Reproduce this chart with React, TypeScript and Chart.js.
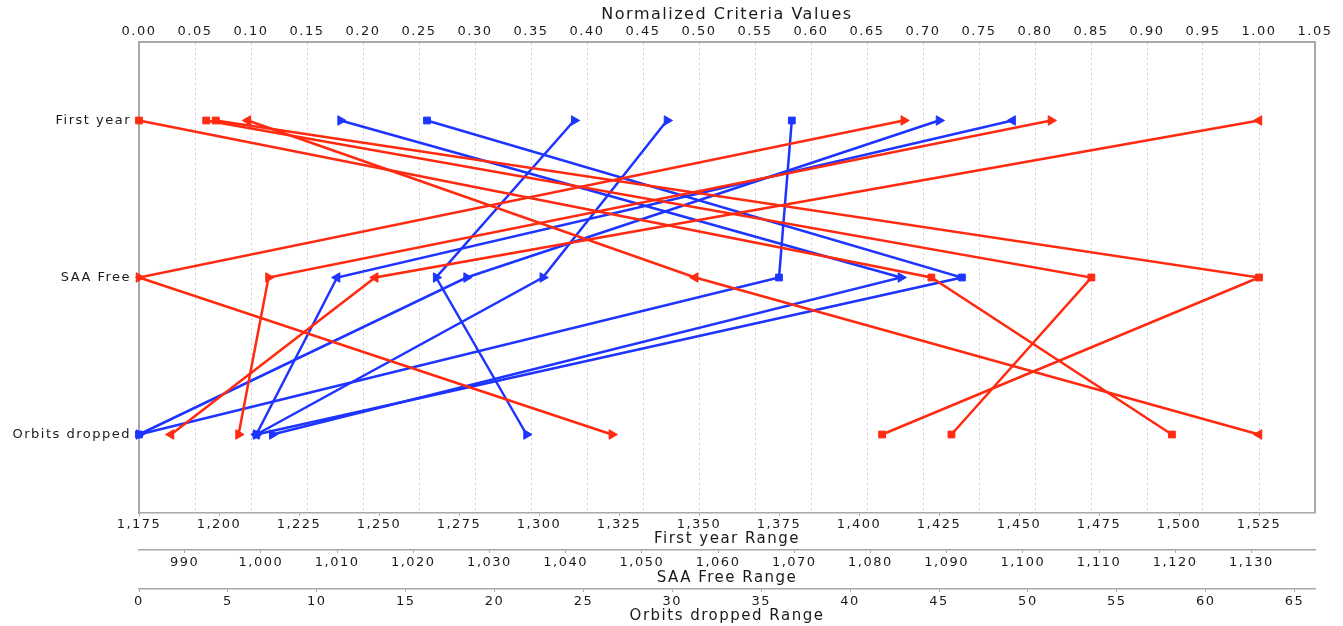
import React, { useEffect, useRef } from 'react';
import { Chart, registerables } from 'chart.js';

Chart.register(...registerables);

// ---------- data ----------
const categories = ['First year', 'SAA Free', 'Orbits dropped'];

// group of each solution (A = red family, B = blue family)
const solutionGroup = ['A', 'A', 'A', 'A', 'A', 'A', 'A', 'B', 'B', 'B', 'B', 'B', 'B', 'B'];

// raw criteria values of each solution
const firstYear = [1175, 1196, 1199, 1209, 1414, 1460, 1525, 1238, 1265, 1311, 1340, 1379, 1425, 1448];
const saaFree = [1088, 1109, 1131, 1057, 984, 1001, 1015, 1084, 1092, 1023, 1037, 1068, 1027, 1010];
const orbitsDropped = [58.1, 45.7, 41.8, 63, 26.6, 5.6, 1.8, 7.5, 6.6, 21.8, 6.6, 0, 0, 6.6];

// tick labels
const normalizedTicks = [0, 0.05, 0.1, 0.15, 0.2, 0.25, 0.3, 0.35, 0.4, 0.45, 0.5, 0.55, 0.6, 0.65, 0.7, 0.75, 0.8, 0.85, 0.9, 0.95, 1.0, 1.05];
const firstYearTicks = [1175, 1200, 1225, 1250, 1275, 1300, 1325, 1350, 1375, 1400, 1425, 1450, 1475, 1500, 1525];
const saaFreeTicks = [990, 1000, 1010, 1020, 1030, 1040, 1050, 1060, 1070, 1080, 1090, 1100, 1110, 1120, 1130];
const orbitsTicks = [0, 5, 10, 15, 20, 25, 30, 35, 40, 45, 50, 55, 60, 65];

// ---------- styles ----------
const MARKERS = ['square', 'square', 'square', 'left', 'right', 'right', 'left', 'right', 'square', 'right', 'right', 'square', 'right', 'left'];
const GROUP_COLORS: Record<string, string> = { A: '#ff2a10', B: '#1e34ff' };
const GRAY = '#a8a8a8';
const TEXT = '#1a1a1a';
const FAMILY = '"DejaVu Sans", sans-serif';
const SPACING = '1.5px';

const norm = (v: number, arr: number[]) => {
  const mn = Math.min(...arr);
  const mx = Math.max(...arr);
  return (v - mn) / (mx - mn);
};

export default function App() {
  const ref = useRef<HTMLCanvasElement>(null);

  useEffect(() => {
    document.body.style.margin = '0';
    const canvas = ref.current;
    if (!canvas) return;

    const datasets = firstYear.map((fy, i) => {
      const color = GROUP_COLORS[solutionGroup[i]];
      const m = MARKERS[i];
      return {
        label: `Solution ${i + 1}`,
        data: [
          { x: norm(fy, firstYear), y: categories[0] },
          { x: norm(saaFree[i], saaFree), y: categories[1] },
          { x: norm(orbitsDropped[i], orbitsDropped), y: categories[2] },
        ],
        borderColor: color,
        backgroundColor: color,
        borderWidth: 2.5,
        pointStyle: m === 'square' ? 'rect' : 'triangle',
        pointRotation: m === 'right' ? 90 : m === 'left' ? -90 : 0,
        pointRadius: m === 'square' ? 4.8 : 5.5,
        pointBorderWidth: 1,
        pointBorderColor: color,
        pointBackgroundColor: color,
        tension: 0,
        fill: false,
        clip: false as any,
      };
    });

    const tickFont = { family: FAMILY, size: 13 };
    const axisTitleFont = { family: FAMILY, size: 15 };
    const titleFont = { family: FAMILY, size: 16 };

    const rangeAxis = (arr: number[], ticks: number[], title: string, weight: number, h: number, pad: number, tpad: number) => {
      const mn = Math.min(...arr);
      const mx = Math.max(...arr);
      return {
        type: 'linear',
        position: 'bottom',
        weight,
        bounds: 'data',
        min: mn,
        max: mn + 1.05 * (mx - mn),
        afterBuildTicks: (s: any) => {
          s.ticks = ticks.map((v) => ({ value: v }));
        },
        afterFit: (s: any) => {
          s.height = h;
        },
        grid: { display: true, drawOnChartArea: false, drawTicks: true, tickLength: 3, color: GRAY, tickColor: GRAY },
        border: { display: true, color: GRAY, width: 1.5 },
        ticks: {
          padding: pad,
          font: tickFont,
          color: TEXT,
          autoSkip: false,
          maxRotation: 0,
          callback: (v: any) => Number(v).toLocaleString('en-US'),
        },
        title: { display: true, text: title, font: axisTitleFont, color: TEXT, padding: { top: 0, bottom: tpad } },
      };
    };

    const spacingPlugin = {
      id: 'letterSpacing',
      beforeUpdate(chart: any) {
        (chart.ctx as any).letterSpacing = SPACING;
      },
      beforeDraw(chart: any) {
        (chart.ctx as any).letterSpacing = SPACING;
      },
    };

    const borderPlugin = {
      id: 'rightBorder',
      afterDraw(chart: any) {
        const { ctx, chartArea } = chart;
        ctx.save();
        ctx.strokeStyle = GRAY;
        ctx.lineWidth = 2;
        ctx.beginPath();
        ctx.moveTo(chartArea.right, chartArea.top);
        ctx.lineTo(chartArea.right, chartArea.bottom);
        ctx.stroke();
        ctx.restore();
      },
    };

    const chart = new Chart(canvas, {
      type: 'line',
      data: { datasets: datasets as any },
      plugins: [spacingPlugin, borderPlugin],
      options: {
        animation: false,
        responsive: false,
        devicePixelRatio: 1,
        layout: { padding: { left: 0, right: 28, top: 0, bottom: 0 } },
        plugins: { legend: { display: false }, tooltip: { enabled: false } },
        scales: {
          x: {
            type: 'linear',
            position: 'top',
            bounds: 'data',
            min: 0,
            max: 1.05,
            afterBuildTicks: (s: any) => {
              s.ticks = normalizedTicks.map((v) => ({ value: v }));
            },
            afterFit: (s: any) => {
              s.height = 42;
            },
            grid: { display: true, drawOnChartArea: true, drawTicks: false, color: '#cfcfcf', lineWidth: 1 },
            border: { display: true, color: GRAY, width: 2, dash: [2, 3] },
            ticks: {
              padding: 3,
              font: tickFont,
              color: TEXT,
              autoSkip: false,
              maxRotation: 0,
              callback: (v: any) => Number(v).toFixed(2),
            },
            title: { display: true, text: 'Normalized Criteria Values', font: titleFont, color: TEXT, padding: { top: 5, bottom: 0 } },
          },
          fy: rangeAxis(firstYear, firstYearTicks, 'First year Range', 1, 37, 1, 2),
          saa: rangeAxis(saaFree, saaFreeTicks, 'SAA Free Range', 2, 39, 2, 2),
          orb: rangeAxis(orbitsDropped, orbitsTicks, 'Orbits dropped Range', 3, 37, 2, 1),
          y: {
            type: 'category',
            labels: categories,
            offset: true,
            afterFit: (s: any) => {
              s.width = 139;
            },
            grid: { display: false, drawTicks: false },
            border: { display: true, color: GRAY, width: 2 },
            ticks: { padding: 8, font: { family: FAMILY, size: 13 }, color: TEXT },
          },
        } as any,
      },
    });

    return () => chart.destroy();
  }, []);

  return (
    <div style={{ position: 'fixed', left: 0, top: 0, width: 1343, height: 626, background: '#fff' }}>
      <canvas ref={ref} width={1343} height={626} style={{ display: 'block' }} />
    </div>
  );
}
